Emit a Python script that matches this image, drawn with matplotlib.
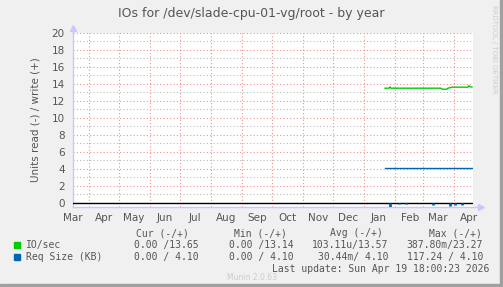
# IOs-Diagramm im Munin-Stil nachbauen

import numpy as np
import matplotlib.pyplot as plt
import matplotlib.dates as mdates
from matplotlib.ticker import MultipleLocator, FixedLocator
from matplotlib.patches import Rectangle

# Daten
io_dates = ['2026-01-22', '2026-01-26', '2026-01-27', '2026-01-28', '2026-03-19',
            '2026-03-20', '2026-03-25', '2026-03-26', '2026-03-30', '2026-04-15',
            '2026-04-16', '2026-04-17', '2026-04-19']
io_write = [13.5, 13.5, 13.65, 13.5, 13.5, 13.38, 13.38, 13.5, 13.62, 13.62, 13.8, 13.65, 13.65]

req_dates = ['2026-01-22', '2026-04-19']
req_write = [4.10, 4.10]

read_dates = ['2026-01-27', '2026-02-05', '2026-02-12', '2026-03-11', '2026-03-28',
              '2026-04-02', '2026-04-09']
read_vals = [0.45, 0.2, 0.15, 0.25, 0.4, 0.3, 0.3]

month_ticks = ['2025-03-16', '2025-04-16', '2025-05-16', '2025-06-16', '2025-07-16',
               '2025-08-16', '2025-09-16', '2025-10-16', '2025-11-16', '2025-12-16',
               '2026-01-16', '2026-02-16', '2026-03-16', '2026-04-16']
month_labels = ['Mar', 'Apr', 'May', 'Jun', 'Jul', 'Aug', 'Sep', 'Oct', 'Nov', 'Dec',
                'Jan', 'Feb', 'Mar', 'Apr']

legend_rows = [
    ('IO/sec', '#00CC00', ['0.00 /13.65', '0.00 /13.14', '103.11u/13.57', '387.80m/23.27']),
    ('Req Size (KB)', '#0066B3', ['0.00 / 4.10', '0.00 / 4.10', '30.44m/ 4.10', '117.24 / 4.10']),
]
headers = ['Cur (-/+)', 'Min (-/+)', 'Avg (-/+)', 'Max (-/+)']

W, H = 503, 287
bg = '#F0F0F0'
txt = '#555555'

fig = plt.figure(figsize=(W / 100, H / 100), dpi=100, facecolor=bg)
ax = fig.add_axes([73 / W, 1 - 207 / H, 400 / W, 174 / H])
ax.set_facecolor('white')

d = lambda s: mdates.date2num(np.datetime64(s))

ax.plot([d(s) for s in io_dates], io_write, color='#00CC00', lw=1, zorder=4)
ax.plot([d(s) for s in req_dates], req_write, color='#0066B3', lw=1, zorder=4)
ax.axhline(0, color='black', lw=1, zorder=3)
ax.vlines([d(s) for s in read_dates], 0, -np.array(read_vals), color='#0066B3', lw=2, zorder=5)

ax.set_xlim(d('2025-03-16'), d('2026-04-20'))
ax.set_ylim(-0.5, 20)

# Gitter
ax.xaxis.set_major_locator(mdates.MonthLocator(bymonthday=1))
ax.xaxis.set_major_formatter(plt.NullFormatter())
ax.xaxis.set_minor_locator(FixedLocator([d(s) for s in month_ticks]))
ax.xaxis.set_minor_formatter(plt.FixedFormatter(month_labels))
ax.yaxis.set_major_locator(MultipleLocator(2))
ax.yaxis.set_minor_locator(MultipleLocator(1))
ax.xaxis.grid(True, which='major', color='#F09090', ls=(0, (1, 2)), lw=0.8)
ax.yaxis.grid(True, which='major', color='#F09090', ls=(0, (1, 2)), lw=0.8)
ax.yaxis.grid(True, which='minor', color='#BBBBBB', ls=(0, (1, 2)), lw=0.8)
ax.tick_params(which='both', length=0, colors=txt, labelsize=7.5)
ax.tick_params(axis='y', pad=6)
ax.tick_params(axis='x', which='minor', pad=4)
ax.set_ylabel('Units read (-) / write (+)', color=txt, fontsize=7.5, labelpad=8)

for s in ax.spines.values():
    s.set_visible(False)
axc = '#C8C8FF'
ax.plot([0, 0], [0, 1.03], transform=ax.transAxes, color=axc, lw=1, clip_on=False)
ax.plot([0, 1.02], [0, 0], transform=ax.transAxes, color=axc, lw=1, clip_on=False)
ax.plot([0], [1.03], transform=ax.transAxes, marker='^', ms=4, color=axc, clip_on=False)
ax.plot([1.02], [0], transform=ax.transAxes, marker='>', ms=4, color=axc, clip_on=False)

# Titel und Texte
fig.text(251 / W, 1 - 14 / H, 'IOs for /dev/slade-cpu-01-vg/root - by year',
         ha='center', va='center', fontsize=9, color=txt)
fig.text(494 / W, 1 - 5 / H, 'RRDTOOL / TOBI OETIKER', rotation=270, ha='center', va='top',
         fontsize=5, color='#CCCCCC')

mono = 'DejaVu Sans Mono'
col_right = [199, 294, 388, 483]
head_right = [189, 287, 383, 482]
for x, h in zip(head_right, headers):
    fig.text(x / W, 1 - 233 / H, h, ha='right', va='center', family=mono, fontsize=7, color=txt)
for i, (name, c, vals) in enumerate(legend_rows):
    y = 245 + 12 * i
    fig.patches.append(Rectangle((14 / W, 1 - (y + 3) / H), 6 / W, 6 / H, color=c,
                                 transform=fig.transFigure))
    fig.text(26 / W, 1 - y / H, name, ha='left', va='center', family=mono, fontsize=7, color=txt)
    for x, v in zip(col_right, vals):
        fig.text(x / W, 1 - y / H, v, ha='right', va='center', family=mono, fontsize=7, color=txt)
fig.text(489 / W, 1 - 269 / H, 'Last update: Sun Apr 19 18:00:23 2026', ha='right', va='center',
         family=mono, fontsize=7, color=txt)
fig.text(252 / W, 1 - 277 / H, 'Munin 2.0.63', ha='center', va='center', fontsize=5.5,
         color='#CCCCCC')

# Rahmen rechts / unten
fig.patches.append(Rectangle((1 - 3 / W, 0), 3 / W, 1, color='#A0A0A0', transform=fig.transFigure))
fig.patches.append(Rectangle((0, 0), 1, 3 / H, color='#A0A0A0', transform=fig.transFigure))

fig.savefig('out.png', dpi=100, facecolor=bg)
